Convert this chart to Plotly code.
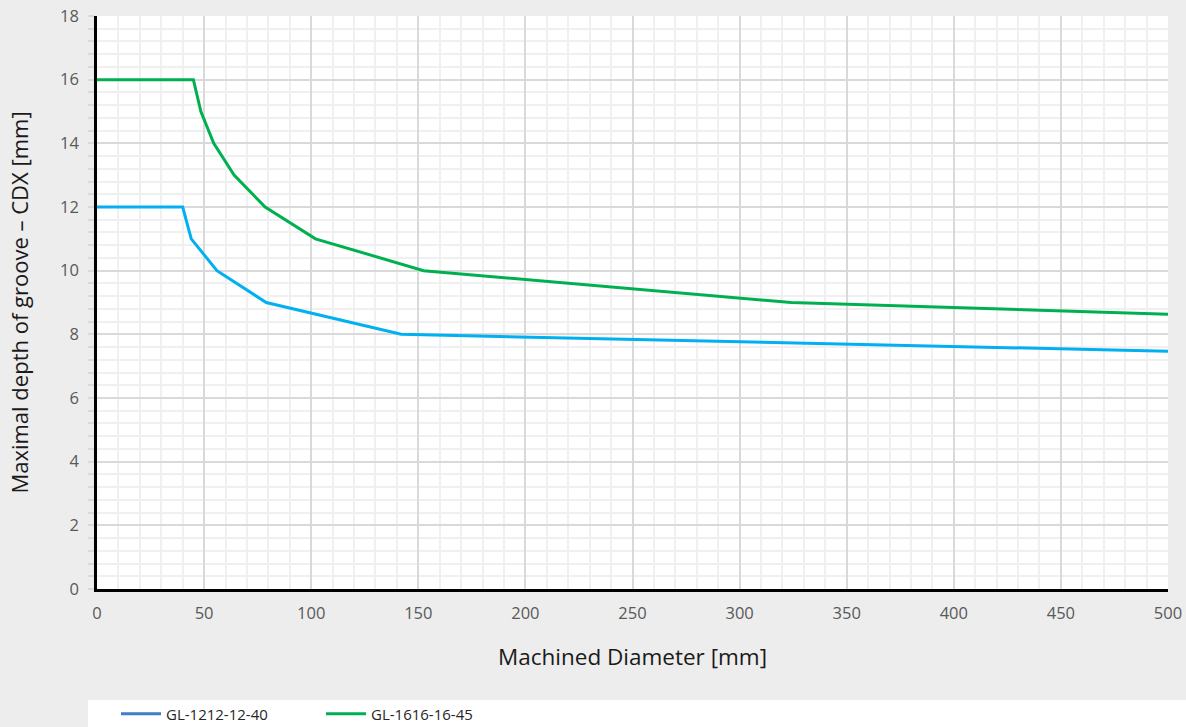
import plotly.graph_objects as go

# Data
series_names = ["GL-1212-12-40", "GL-1616-16-45"]
x_1212 = [0, 40, 44, 56, 79, 142, 500]
y_1212 = [12, 12, 11, 10, 9, 8, 7.47]
x_1616 = [0, 45, 48.5, 54.5, 64, 78.5, 102, 152.5, 324, 500]
y_1616 = [16, 16, 15, 14, 13, 12, 11, 10, 9, 8.63]

line_colors = ["#00B0F0", "#00B050"]
legend_colors = ["#3E7DC8", "#00B050"]

x_ticks = [0, 50, 100, 150, 200, 250, 300, 350, 400, 450, 500]
y_ticks = [0, 2, 4, 6, 8, 10, 12, 14, 16, 18]

FONT = "Open Sans, Noto Sans, sans-serif"

fig = go.Figure()
for xs, ys, c in [(x_1212, y_1212, line_colors[0]), (x_1616, y_1616, line_colors[1])]:
    fig.add_trace(go.Scatter(x=xs, y=ys, mode="lines", line=dict(color=c, width=3),
                             showlegend=False, hoverinfo="x+y"))
for name, c in zip(series_names, legend_colors):
    fig.add_trace(go.Scatter(x=[None], y=[None], mode="lines", name=name,
                             line=dict(color=c, width=3)))

W, H = 1186, 727
L, R, T, B = 97, 18, 16, 138
pw, ph = W - L - R, H - T - B

def px_to_paper_x(px):
    return (px - L) / pw

def px_to_paper_y(py):
    return (H - B - py) / ph

# white legend strip
fig.add_shape(type="rect", xref="paper", yref="paper",
              x0=px_to_paper_x(88), x1=px_to_paper_x(1200),
              y0=px_to_paper_y(740), y1=px_to_paper_y(700),
              fillcolor="white", line=dict(width=0), layer="below")

fig.update_layout(
    width=W, height=H,
    margin=dict(l=L, r=R, t=T, b=B, autoexpand=False),
    paper_bgcolor="#EDEDED",
    plot_bgcolor="white",
    font=dict(family=FONT, color="#595959", size=16),
    showlegend=True,
    legend=dict(orientation="h", x=px_to_paper_x(116), xanchor="left",
                y=px_to_paper_y(714), yanchor="middle",
                bgcolor="rgba(0,0,0,0)", font=dict(size=15, color="#262626"),
                entrywidth=150, entrywidthmode="pixels", itemwidth=40),
    xaxis=dict(range=[0, 500], tickvals=x_ticks, ticks="", automargin=False,
               ticklabelstandoff=7,
               showgrid=True, gridcolor="#D9D9D9", gridwidth=1.5,
               minor=dict(dtick=10, showgrid=True, gridcolor="#F0F0F0", gridwidth=1.5),
               showline=True, linecolor="black", linewidth=2.5,
               zeroline=False, tickfont=dict(size=16.5, color="#595959"),
               title=dict(text="Machined Diameter [mm]", standoff=27,
                          font=dict(size=22.5, color="#1a1a1a"))),
    yaxis=dict(range=[0, 18], tickvals=y_ticks, ticks="outside", ticklen=6, automargin=False,
               ticklabelstandoff=6,
               tickcolor="#D9D9D9", tickwidth=1.5,
               showgrid=True, gridcolor="#D9D9D9", gridwidth=1.5,
               minor=dict(dtick=0.4, tick0=0, showgrid=True, gridcolor="#F0F0F0", gridwidth=1.5,
                          ticks="outside", ticklen=6, tickcolor="#D9D9D9", tickwidth=1.5),
               showline=True, linecolor="black", linewidth=2.5,
               zeroline=False, tickfont=dict(size=16.5, color="#595959"),
               title=dict(text="Maximal depth of groove – CDX [mm]", standoff=26,
                          font=dict(size=22, color="#1a1a1a"))),
)

fig.write_html("out.html", config={"displayModeBar": False},
               post_script="document.body.style.margin='0';document.body.style.overflow='hidden';")
